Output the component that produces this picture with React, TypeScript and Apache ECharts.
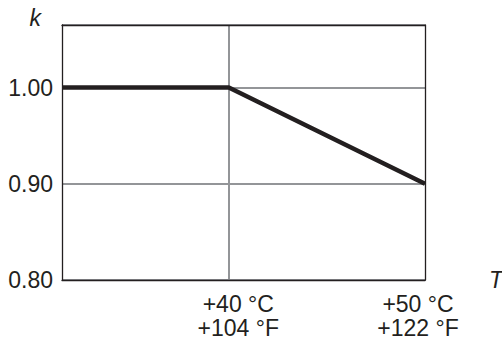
import React, { useEffect, useRef } from "react";
import * as echarts from "echarts";

// Data (temperature in °C, derating factor k)
const tempC = [31.5, 40, 50];
const kValues = [1.0, 1.0, 0.9];
// Tick labels
const tickC = [40, 50];
const tickF = [104, 122];
const yTicks = [0.8, 0.9, 1.0];
const yMin = 0.8;
const yMax = 1.065;
const xMin = 31.5;
const xMax = 50;

export default function App() {
  const ref = useRef<HTMLDivElement>(null);
  useEffect(() => {
    document.body.style.margin = "0";
    const chart = echarts.init(ref.current!, null, { renderer: "svg" });
    const dark = "#231f20";
    const grey = "#939598";
    const font = "Liberation Sans";
    const fs = 23;
    const base = { fontFamily: font, fontSize: fs, color: dark, lineHeight: 24 };
    chart.setOption({
      animation: false,
      backgroundColor: "#ffffff",
      grid: { left: 62, right: 77, top: 25, bottom: 62, containLabel: false, outerBoundsMode: "none" },
      xAxis: [
        {
          type: "value",
          min: xMin,
          max: xMax,
          z: 3,
          axisLine: { show: true, onZero: false, lineStyle: { color: dark, width: 1.3 } },
          axisTick: { show: false },
          splitLine: { show: false },
          axisLabel: {
            customValues: tickC,
            margin: 12,
            formatter: (v: number) => {
              const i = tickC.indexOf(v);
              const key = i === 0 ? "a" : "b";
              return `{${key}|+${v} °C}\n{${key}|+${tickF[i]} °F}`;
            },
            rich: {
              a: { ...base, padding: [0, 0, 0, 19] },
              b: { ...base, padding: [0, 14, 0, 0] },
            },
          },
          name: "T",
          nameLocation: "end",
          nameGap: 64,
          nameTextStyle: {
            fontFamily: font,
            fontSize: fs,
            fontStyle: "italic",
            color: dark,
            align: "left",
            verticalAlign: "middle",
            padding: [48, 0, 0, 0],
          },
        },
        {
          type: "value",
          position: "top",
          min: xMin,
          max: xMax,
          z: 3,
          axisLine: { show: true, onZero: false, lineStyle: { color: dark, width: 1.3 } },
          axisTick: { show: false },
          axisLabel: { show: false },
          splitLine: { show: false },
        },
      ],
      yAxis: [
        {
          type: "value",
          min: yMin,
          max: yMax,
          interval: 0.1,
          z: 0,
          axisLine: { show: true, lineStyle: { color: dark, width: 1.3 } },
          axisTick: { show: false },
          splitLine: { show: true, lineStyle: { color: grey, width: 2 } },
          axisLabel: {
            customValues: yTicks,
            margin: 9,
            formatter: (v: number) => v.toFixed(2),
            fontFamily: font,
            fontSize: fs,
            color: dark,
            padding: [0, 0, 7, 0],
          },
          name: "k",
          nameLocation: "end",
          nameGap: 7.5,
          nameTextStyle: {
            fontFamily: font,
            fontSize: fs,
            fontStyle: "italic",
            color: dark,
            align: "right",
            verticalAlign: "middle",
            padding: [0, 21, 0, 0],
          },
        },
        {
          type: "value",
          position: "right",
          min: yMin,
          max: yMax,
          z: 3,
          axisLine: { show: true, lineStyle: { color: dark, width: 1.3 } },
          axisTick: { show: false },
          axisLabel: { show: false },
          splitLine: { show: false },
        },
      ],
      series: [
        {
          type: "line",
          xAxisIndex: 0,
          yAxisIndex: 0,
          z: 2,
          data: tempC.map((t, i) => [t, kValues[i]]),
          symbol: "none",
          lineStyle: { color: dark, width: 4.5 },
          markLine: {
            z: 1,
            silent: true,
            symbol: "none",
            label: { show: false },
            lineStyle: { color: grey, width: 2, type: "solid" },
            data: [{ xAxis: tickC[0] }],
          },
        },
      ],
    });
    return () => chart.dispose();
  }, []);
  return <div ref={ref} style={{ width: 502, height: 342 }} />;
}
